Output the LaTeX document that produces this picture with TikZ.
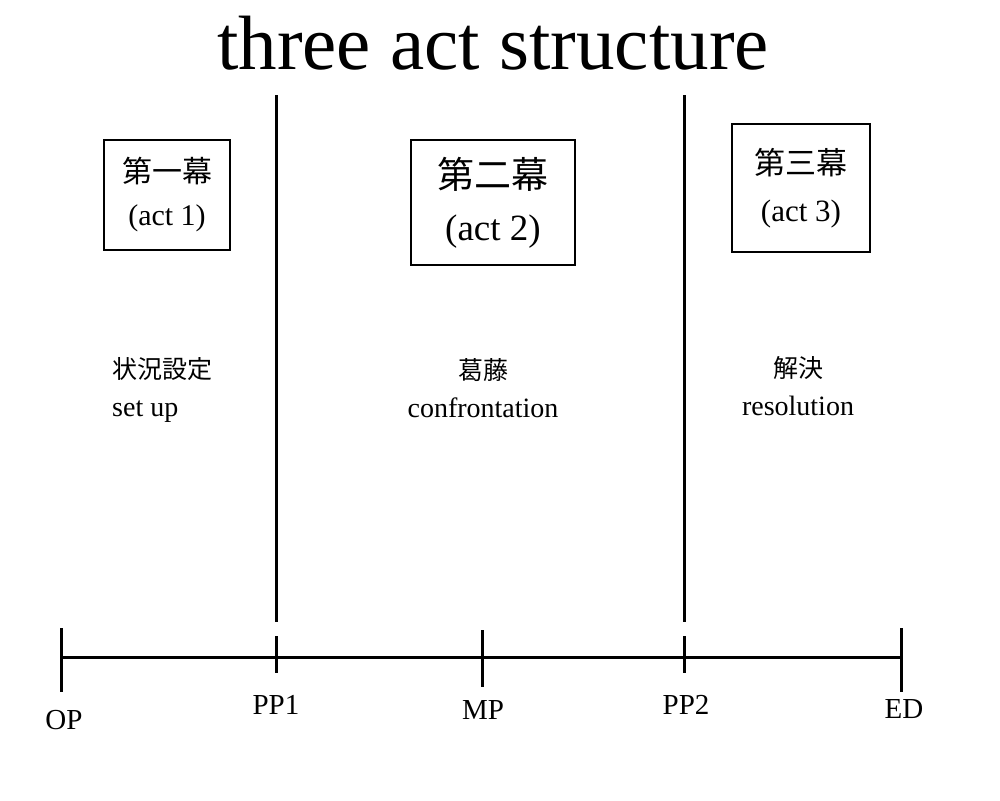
\documentclass[tikz,border=0pt]{standalone}
\usepackage{fontspec}
\setmainfont{Liberation Serif}
\newfontfamily\cjk{Noto Sans CJK JP}
\begin{document}
\begin{tikzpicture}[x=1pt,y=-1pt,
  line/.style={line width=3pt,black},
  actbox/.style={draw,line width=1.8pt,inner sep=0pt,align=center},
  lbl/.style={inner sep=0pt,font=\fontsize{28}{38}\selectfont},
  pt/.style={inner sep=0pt,anchor=base,font=\fontsize{29}{29}\selectfont}]
\useasboundingbox (0,0) rectangle (1000,800);
% title
\node[inner sep=0pt,anchor=base,font=\fontsize{77}{77}\selectfont] (title) at (493,70) {three act structure};
% act boxes
\node[actbox,minimum width=126pt,minimum height=110pt,font=\fontsize{30}{43}\selectfont] (act1) at (167,195) {{\cjk 第一幕}\\(act 1)};
\node[actbox,minimum width=164pt,minimum height=125pt,font=\fontsize{37}{52}\selectfont] (act2) at (493,202.5) {{\cjk 第二幕}\\(act 2)};
\node[actbox,minimum width=138pt,minimum height=128pt,font=\fontsize{31}{47}\selectfont] (act3) at (801,188) {{\cjk 第三幕}\\(act 3)};
% descriptions
\node[lbl,anchor=base west,align=left] (setup) at (112,416) {{\cjk\fontsize{25}{38}\selectfont 状況設定}\\set up};
\node[lbl,anchor=base,align=center] (conf) at (483,417) {{\cjk\fontsize{25}{38}\selectfont 葛藤}\\confrontation};
\node[lbl,anchor=base,align=center] (reso) at (798,415) {{\cjk\fontsize{25}{38}\selectfont 解決}\\resolution};
% timeline coordinates
\coordinate (op) at (61,657);
\coordinate (pp1) at (276,657);
\coordinate (mp) at (482,657);
\coordinate (pp2) at (684,657);
\coordinate (ed) at (901,657);
\coordinate (optop) at (61,628); \coordinate (opbot) at (61,692);
\coordinate (edtop) at (901,628); \coordinate (edbot) at (901,692);
\coordinate (mptop) at (482,630); \coordinate (mpbot) at (482,687);
\coordinate (pp1top) at (276,636); \coordinate (pp1bot) at (276,673);
\coordinate (pp2top) at (684,636); \coordinate (pp2bot) at (684,673);
\coordinate (div1top) at (276,95); \coordinate (div1bot) at (276,622);
\coordinate (div2top) at (684,95); \coordinate (div2bot) at (684,622);
% lines
\draw[line] (op) -- (ed);
\draw[line] (optop) -- (opbot);
\draw[line] (edtop) -- (edbot);
\draw[line] (mptop) -- (mpbot);
\draw[line] (pp1top) -- (pp1bot);
\draw[line] (pp2top) -- (pp2bot);
\draw[line] (div1top) -- (div1bot);
\draw[line] (div2top) -- (div2bot);
% point labels
\node[pt] (lop) at (64,729) {OP};
\node[pt] (lpp1) at (276,714) {PP1};
\node[pt] (lmp) at (483,719) {MP};
\node[pt] (lpp2) at (686,714) {PP2};
\node[pt] (led) at (904,718) {ED};
\end{tikzpicture}
\end{document}
